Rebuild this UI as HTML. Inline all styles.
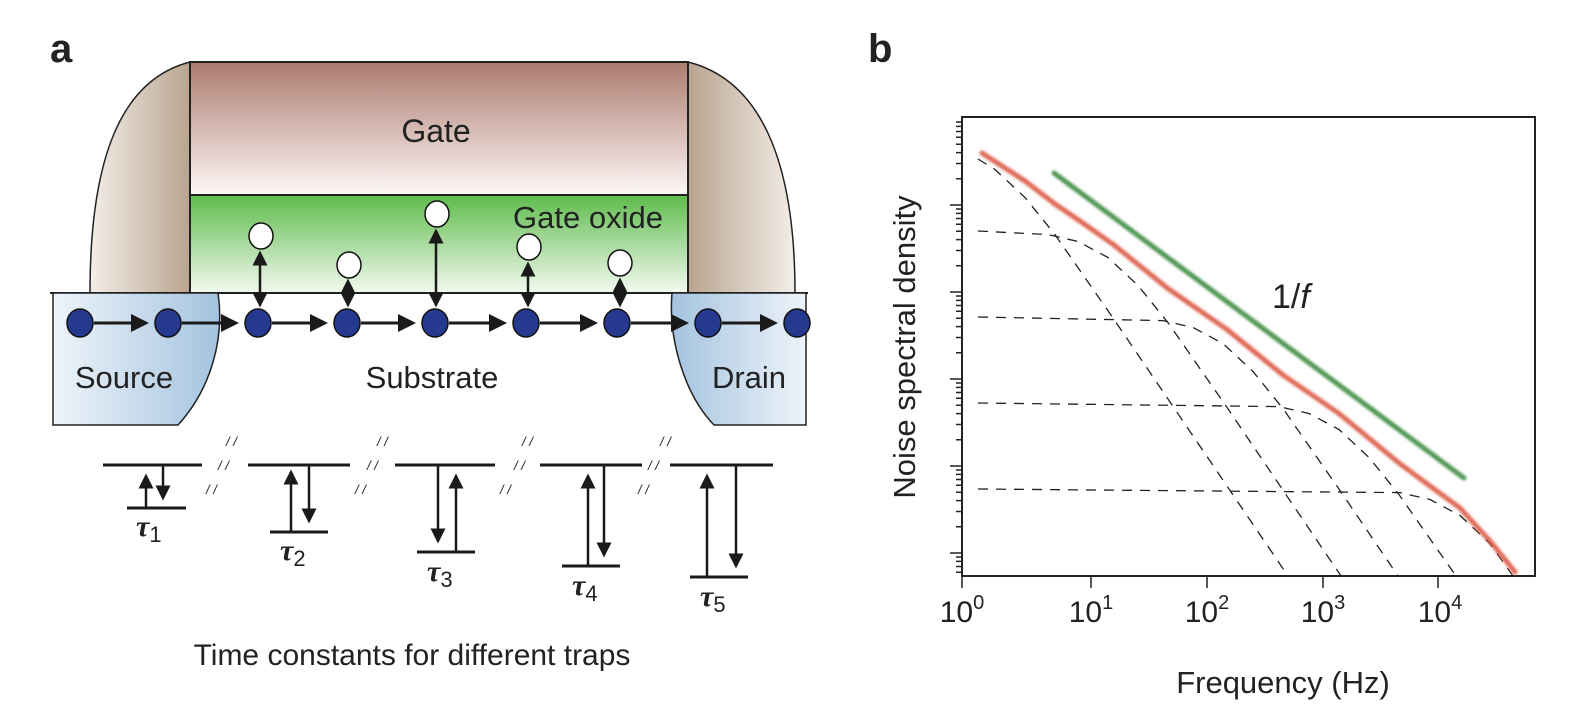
<!DOCTYPE html>
<html><head><meta charset="utf-8"><style>
html,body{margin:0;padding:0;background:#fff;}
svg{display:block;font-family:"Liberation Sans",sans-serif;}
</style></head><body>
<svg width="1575" height="719" viewBox="0 0 1575 719" xmlns="http://www.w3.org/2000/svg">
<defs>
<linearGradient id="gate" x1="0" y1="0" x2="0" y2="1"><stop offset="0" stop-color="#ad7b6f"/><stop offset="1" stop-color="#fdf8f7"/></linearGradient>
<linearGradient id="ox" x1="0" y1="0" x2="0" y2="1"><stop offset="0" stop-color="#5fbb4c"/><stop offset="1" stop-color="#f3faf1"/></linearGradient>
<linearGradient id="spL" x1="0" y1="0" x2="1" y2="0"><stop offset="0" stop-color="#f3eee8"/><stop offset="1" stop-color="#b9a48f"/></linearGradient>
<linearGradient id="spR" x1="0" y1="0" x2="1" y2="0"><stop offset="0" stop-color="#b9a48f"/><stop offset="1" stop-color="#f3eee8"/></linearGradient>
<linearGradient id="srcG" x1="0" y1="0" x2="1" y2="0"><stop offset="0" stop-color="#eef4fa"/><stop offset="1" stop-color="#a4c3df"/></linearGradient>
<linearGradient id="drG" x1="0" y1="0" x2="1" y2="0"><stop offset="0" stop-color="#a4c3df"/><stop offset="1" stop-color="#eef4fa"/></linearGradient>
<marker id="ah" markerWidth="6" markerHeight="6" refX="5" refY="3" orient="auto-start-reverse" markerUnits="strokeWidth"><path d="M0,0 L6,3 L0,6 Z" fill="#1a1a1a"/></marker>
<filter id="bl"><feGaussianBlur stdDeviation="1.2"/></filter>
</defs>
<text x="50" y="62" font-size="40" font-weight="bold" fill="#222">a</text>
<text x="868" y="62" font-size="40" font-weight="bold" fill="#222">b</text>
<path d="M90,293 C90,160 120,80 190,62 L190,293 Z" fill="url(#spL)" stroke="#222" stroke-width="1.5"/>
<path d="M688,62 C760,80 795,160 795,293 L688,293 Z" fill="url(#spR)" stroke="#222" stroke-width="1.5"/>
<rect x="190" y="62" width="498" height="133" fill="url(#gate)" stroke="#222" stroke-width="2"/>
<rect x="190" y="195" width="498" height="98" fill="url(#ox)" stroke="#222" stroke-width="2"/>
<text x="436" y="142" font-size="32" fill="#222" text-anchor="middle">Gate</text>
<text x="588" y="228" font-size="31" fill="#222" text-anchor="middle">Gate oxide</text>
<line x1="50" y1="293" x2="808" y2="293" stroke="#222" stroke-width="2"/>
<path d="M53,293 L218,293 C225,340 210,390 178,425 L53,425 Z" fill="url(#srcG)" stroke="#222" stroke-width="1.5"/>
<path d="M672,293 L806,293 L806,425 L714,425 C685,395 668,340 672,293 Z" fill="url(#drG)" stroke="#222" stroke-width="1.5"/>
<text x="124" y="388" font-size="31" fill="#222" text-anchor="middle">Source</text>
<text x="432" y="388" font-size="31" fill="#222" text-anchor="middle">Substrate</text>
<text x="749" y="388" font-size="31" fill="#222" text-anchor="middle">Drain</text>
<g stroke="#1a1a1a" stroke-width="3" marker-end="url(#ah)">
<line x1="94" y1="323" x2="146" y2="323"/><line x1="182" y1="323" x2="236" y2="323"/>
<line x1="272" y1="323" x2="325" y2="323"/><line x1="361" y1="323" x2="413" y2="323"/>
<line x1="449" y1="323" x2="504" y2="323"/><line x1="540" y1="323" x2="595" y2="323"/>
<line x1="631" y1="323" x2="686" y2="323"/><line x1="722" y1="323" x2="775" y2="323"/>
</g>
<g stroke="#1a1a1a" stroke-width="2.5" marker-end="url(#ah)" marker-start="url(#ah)">
<line x1="260" y1="253" x2="260" y2="305"/>
<line x1="348" y1="281" x2="348" y2="305"/>
<line x1="436" y1="231" x2="436" y2="305"/>
<line x1="528" y1="264" x2="528" y2="305"/>
<line x1="620" y1="280" x2="620" y2="305"/>
</g>
<g fill="#253a8e" stroke="#111" stroke-width="1.5">
<ellipse cx="80" cy="323" rx="13" ry="14"/><ellipse cx="168" cy="323" rx="13" ry="14"/>
<ellipse cx="258" cy="323" rx="13" ry="14"/><ellipse cx="347" cy="323" rx="13" ry="14"/>
<ellipse cx="435" cy="323" rx="13" ry="14"/><ellipse cx="526" cy="323" rx="13" ry="14"/>
<ellipse cx="617" cy="323" rx="13" ry="14"/><ellipse cx="708" cy="323" rx="13" ry="14"/>
<ellipse cx="797" cy="323" rx="13" ry="14"/>
</g>
<g fill="#fff" stroke="#111" stroke-width="1.5">
<ellipse cx="261" cy="236" rx="12" ry="13"/><ellipse cx="349" cy="265" rx="12" ry="13"/>
<ellipse cx="437" cy="214" rx="12" ry="13"/><ellipse cx="529" cy="247" rx="12" ry="13"/>
<ellipse cx="620" cy="263" rx="12" ry="13"/>
</g>
<g stroke="#1a1a1a" stroke-width="3">
<line x1="103" y1="465" x2="202" y2="465"/><line x1="248" y1="465" x2="350" y2="465"/>
<line x1="395" y1="465" x2="495" y2="465"/><line x1="540" y1="465" x2="642" y2="465"/>
<line x1="670" y1="465" x2="773" y2="465"/>
<line x1="127" y1="508" x2="186" y2="508"/><line x1="270" y1="532" x2="328" y2="532"/>
<line x1="417" y1="552" x2="475" y2="552"/><line x1="562" y1="566" x2="620" y2="566"/>
<line x1="690" y1="577" x2="748" y2="577"/>
</g>
<g stroke="#1a1a1a" stroke-width="2.5" marker-end="url(#ah)">
<line x1="146" y1="507" x2="146" y2="476"/><line x1="163" y1="466" x2="163" y2="498"/>
<line x1="291" y1="531" x2="291" y2="472"/><line x1="309" y1="466" x2="309" y2="521"/>
<line x1="438" y1="466" x2="438" y2="541"/><line x1="456" y1="551" x2="456" y2="476"/>
<line x1="588" y1="565" x2="588" y2="476"/><line x1="604" y1="466" x2="604" y2="555"/>
<line x1="707" y1="576" x2="707" y2="476"/><line x1="736" y1="466" x2="736" y2="566"/>
</g>
<g font-size="13" fill="#222" font-style="italic">
<text x="226" y="446">/ /</text><text x="377" y="446">/ /</text><text x="522" y="446">/ /</text><text x="660" y="446">/ /</text>
<text x="218" y="470">/ /</text><text x="367" y="470">/ /</text><text x="514" y="470">/ /</text><text x="648" y="470">/ /</text>
<text x="206" y="494">/ /</text><text x="355" y="494">/ /</text><text x="500" y="494">/ /</text><text x="638" y="494">/ /</text>
</g>
<g font-size="30" fill="#222" font-family="Liberation Serif,serif" font-style="italic" font-weight="bold">
<text x="136" y="536">τ<tspan font-size="22" dy="6" font-style="normal" font-weight="normal" font-family="Liberation Sans">1</tspan></text>
<text x="280" y="560">τ<tspan font-size="22" dy="6" font-style="normal" font-weight="normal" font-family="Liberation Sans">2</tspan></text>
<text x="427" y="581">τ<tspan font-size="22" dy="6" font-style="normal" font-weight="normal" font-family="Liberation Sans">3</tspan></text>
<text x="572" y="595">τ<tspan font-size="22" dy="6" font-style="normal" font-weight="normal" font-family="Liberation Sans">4</tspan></text>
<text x="700" y="606">τ<tspan font-size="22" dy="6" font-style="normal" font-weight="normal" font-family="Liberation Sans">5</tspan></text>
</g>
<text x="412" y="665" font-size="30" fill="#222" text-anchor="middle">Time constants for different traps</text>
<!-- panel b -->
<rect x="962" y="117" width="573" height="459" fill="none" stroke="#222" stroke-width="2"/>
<path stroke="#222" stroke-width="1.5" fill="none" d="M962,576V588 M1091,576V588 M1207,576V588 M1323,576V588 M1438,576V588
M950,553H962 M950,466H962 M950,379H962 M950,292H962 M950,205H962
M956,572.3H962 M956,566.5H962 M956,561.4H962 M956,557H962
M956,526.8H962 M956,511.5H962 M956,500.6H962 M956,492.2H962 M956,485.3H962 M956,479.5H962 M956,474.4H962 M956,470H962
M956,439.8H962 M956,424.5H962 M956,413.6H962 M956,405.2H962 M956,398.3H962 M956,392.5H962 M956,387.4H962 M956,383H962
M956,352.8H962 M956,337.5H962 M956,326.6H962 M956,318.2H962 M956,311.3H962 M956,305.5H962 M956,300.4H962 M956,296H962
M956,265.8H962 M956,250.5H962 M956,239.6H962 M956,231.2H962 M956,224.3H962 M956,218.5H962 M956,213.4H962 M956,209H962
M956,178.8H962 M956,163.5H962 M956,152.6H962 M956,144.2H962 M956,137.3H962 M956,131.5H962 M956,126.4H962 M956,122H962"/>
<g fill="none" stroke="#222" stroke-width="1.3" stroke-dasharray="10,8" stroke-linejoin="round">
<polyline points="978,159 995,169.5 1025,197.5 1055,234.6 1114,319.4 1288,576"/>
<polyline points="978,231 1048,234.6 1078,241.5 1108,257.5 1138,285.5 1168,322.6 1227,407.4 1341,576"/>
<polyline points="978,317 1163,320.6 1193,327.5 1223,343.5 1253,371.5 1283,408.6 1342,493.4 1398,576"/>
<polyline points="978,403 1279,406.6 1309,413.5 1339,429.5 1369,457.5 1399,494.6 1456,576"/>
<polyline points="978,489 1400,492.6 1430,499.5 1460,515.5 1490,543.5 1513,576"/>
</g>
<polyline fill="none" stroke="#d9503a" stroke-width="5" stroke-opacity="0.85" stroke-linejoin="round" stroke-linecap="round" filter="url(#bl)" points="982,153 1025,181 1055,204 1085,224.5 1114,245 1168,288.6 1227,329.5 1283,375 1339,413.5 1399,463 1430,486 1460,508 1490,541 1515,572"/>
<line x1="1054" y1="173" x2="1464" y2="478" stroke="#3d8c40" stroke-width="5" stroke-opacity="0.9" stroke-linecap="round" filter="url(#bl)"/>
<text x="1272" y="308" font-size="34" fill="#222">1/<tspan font-style="italic">f</tspan></text>
<g font-size="30" fill="#222" text-anchor="middle">
<text x="962" y="622">10<tspan font-size="20" dy="-13">0</tspan></text>
<text x="1091" y="622">10<tspan font-size="20" dy="-13">1</tspan></text>
<text x="1207" y="622">10<tspan font-size="20" dy="-13">2</tspan></text>
<text x="1323" y="622">10<tspan font-size="20" dy="-13">3</tspan></text>
<text x="1440" y="622">10<tspan font-size="20" dy="-13">4</tspan></text>
</g>
<text x="1283" y="693" font-size="31" fill="#222" text-anchor="middle">Frequency (Hz)</text>
<text transform="translate(915,347) rotate(-90)" font-size="31" fill="#222" text-anchor="middle">Noise spectral density</text>
</svg>
</body></html>
